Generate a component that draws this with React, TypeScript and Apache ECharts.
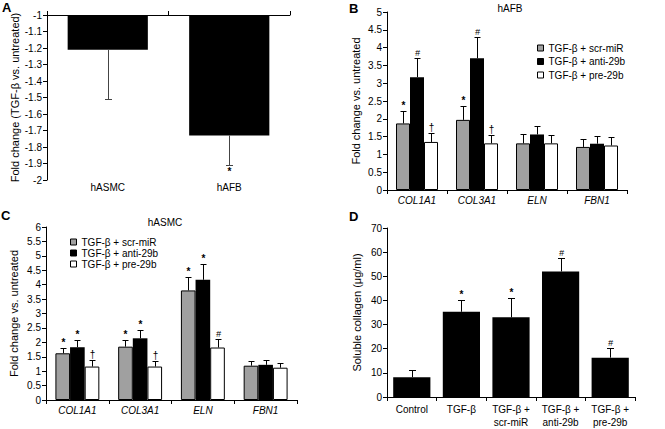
import React, { useEffect, useRef } from 'react';
import * as echarts from 'echarts';

const FONT = '"Liberation Sans", Arial, Helvetica, sans-serif';

// ---------- Panel A ----------
const aCategories = ['hASMC', 'hAFB'];
const aValues = [-1.21, -1.73];
const aErrors = [-1.51, -1.91];
const aMarkers = ['', '*'];

// ---------- Panels B & C ----------
const geneCategories = ['COL1A1', 'COL3A1', 'ELN', 'FBN1'];
const treatmentNames = ['TGF-β + scr-miR', 'TGF-β + anti-29b', 'TGF-β + pre-29b'];

const bScr = [1.87, 1.97, 1.31, 1.21];
const bScrErr = [2.23, 2.36, 1.57, 1.44];
const bAnti = [3.17, 3.7, 1.56, 1.3];
const bAntiErr = [3.72, 4.3, 1.81, 1.51];
const bPre = [1.35, 1.31, 1.31, 1.25];
const bPreErr = [1.61, 1.54, 1.54, 1.48];
const bScrMarks = ['*', '*', '', ''];
const bAntiMarks = ['#', '#', '', ''];
const bPreMarks = ['†', '†', '', ''];

const cScr = [1.62, 1.85, 3.8, 1.19];
const cScrErr = [1.81, 2.08, 4.27, 1.35];
const cAnti = [1.83, 2.14, 4.17, 1.22];
const cAntiErr = [2.08, 2.43, 4.73, 1.39];
const cPre = [1.16, 1.16, 1.82, 1.12];
const cPreErr = [1.39, 1.35, 2.11, 1.28];
const cScrMarks = ['*', '*', '*', ''];
const cAntiMarks = ['*', '*', '*', ''];
const cPreMarks = ['†', '†', '#', ''];

// ---------- Panel D ----------
const dCategories = ['Control', 'TGF-β', 'TGF-β +\nscr-miR', 'TGF-β +\nanti-29b', 'TGF-β +\npre-29b'];
const dValues = [8.2, 35.3, 33.0, 52.0, 16.3];
const dErrors = [11.2, 40.2, 41.2, 57.5, 20.2];
const dMarkers = ['', '*', '*', '#', '#'];

const barColors = ['#a0a0a0', '#000000', '#ffffff'];

function errorSeries(
  xi: number, yi: number, values: number[], errs: number[], marks: string[],
  offset: number, nBars: number, gapFrac: number, color: string, cap: number
) {
  return {
    type: 'custom',
    xAxisIndex: xi,
    yAxisIndex: yi,
    silent: true,
    clip: false,
    z: 5,
    encode: { x: 0, y: [1, 2] },
    data: values.map((v, i) => [i, v, errs[i]]),
    renderItem: (params: any, api: any) => {
      const i = api.value(0);
      const v = api.value(1);
      const e = api.value(2);
      const p0 = api.coord([i, v]);
      const p1 = api.coord([i, e]);
      const band = api.size([1, 0])[0];
      const bw = (band * (1 - gapFrac)) / nBars;
      const x = Math.round(p0[0] + (offset - (nBars - 1) / 2) * bw) + 0.5;
      const yEnd = Math.round(p1[1]) + 0.5;
      const down = e < v;
      const mark = marks[params.dataIndex];
      const children: any[] = [
        { type: 'line', shape: { x1: x, y1: p0[1], x2: x, y2: yEnd }, style: { stroke: color, lineWidth: 1 } },
        { type: 'line', shape: { x1: x - cap, y1: yEnd, x2: x + cap, y2: yEnd }, style: { stroke: color, lineWidth: 1 } },
      ];
      if (mark) {
        children.push({
          type: 'text',
          style: {
            text: mark,
            x: x,
            y: down ? yEnd + 1 : yEnd - 1,
            align: 'center',
            verticalAlign: down ? 'top' : 'bottom',
            fontSize: mark === '#' ? 9 : 10,
            fontWeight: mark === '*' ? 'bold' : 'normal',
            fontStyle: mark === '#' ? 'italic' : 'normal',
            fontFamily: FONT,
            fill: '#000',
          },
        });
      }
      return { type: 'group', children };
    },
  };
}

function yAxisDef(grid: number, min: number, max: number, interval: number, name: string, nameGap: number) {
  return {
    type: 'value',
    gridIndex: grid,
    min,
    max,
    interval,
    name,
    nameLocation: 'middle',
    nameGap,
    nameTextStyle: { fontSize: 11, color: '#000', fontFamily: FONT },
    axisLine: { show: true, lineStyle: { color: '#000', width: 1 } },
    axisTick: { show: true, length: 4, lineStyle: { color: '#000' } },
    axisLabel: { fontSize: 10, color: '#000', fontFamily: FONT, margin: 5 },
    splitLine: { show: false },
  };
}

function catAxisDef(grid: number, data: string[], italic: boolean, margin: number) {
  return {
    type: 'category',
    gridIndex: grid,
    data,
    position: 'bottom',
    axisLine: { show: true, onZero: false, lineStyle: { color: '#000', width: 1 } },
    axisTick: { show: true, length: 4, lineStyle: { color: '#000' } },
    axisLabel: {
      fontSize: 10,
      color: '#000',
      fontFamily: FONT,
      fontStyle: italic ? 'italic' : 'normal',
      margin,
      lineHeight: 13,
      interval: 0,
    },
  };
}

function groupBars(xi: number, yi: number, sets: number[][]) {
  return sets.map((vals, k) => ({
    type: 'bar',
    name: treatmentNames[k],
    xAxisIndex: xi,
    yAxisIndex: yi,
    data: vals,
    barGap: '0%',
    barCategoryGap: '30%',
    itemStyle: {
      color: barColors[k],
      borderColor: '#000',
      borderWidth: k === 1 ? 0 : 1,
    },
  }));
}

function legendDef(left: number, top: number, gap: number) {
  return {
    left,
    top,
    orient: 'vertical',
    icon: 'rect',
    itemWidth: 6,
    itemHeight: 6,
    itemGap: gap,
    selectedMode: false,
    textStyle: { fontSize: 10, color: '#000', fontFamily: FONT, lineHeight: 10 },
    data: treatmentNames.map((n, k) => ({
      name: n,
      itemStyle: { color: barColors[k], borderColor: '#000', borderWidth: 1 },
    })),
  };
}

function buildOption() {
  const letter = (t: string, x: number, y: number) => ({
    type: 'text',
    left: x,
    top: y,
    style: { text: t, fontSize: 13, fontWeight: 'bold', fontFamily: FONT, fill: '#000' },
  });
  const title = (t: string, x: number, y: number) => ({
    type: 'text',
    x,
    y,
    style: { text: t, fontSize: 10, fontFamily: FONT, fill: '#000', align: 'center', verticalAlign: 'top' },
  });

  return {
    animation: false,
    backgroundColor: '#fff',
    grid: [
      { left: 47, top: 15, width: 243, height: 165 },
      { left: 387, top: 12, width: 240, height: 178 },
      { left: 46, top: 227, width: 251, height: 173 },
      { left: 387, top: 228, width: 248, height: 171 },
    ],
    xAxis: [
      {
        type: 'category',
        gridIndex: 0,
        data: aCategories,
        position: 'top',
        axisLine: { show: true, onZero: false, lineStyle: { color: '#000' } },
        axisTick: { show: true, length: 4, lineStyle: { color: '#000' } },
        axisLabel: { show: false },
      },
      {
        type: 'category',
        gridIndex: 0,
        data: aCategories,
        position: 'bottom',
        axisLine: { show: false, onZero: false },
        axisTick: { show: false },
        axisLabel: { fontSize: 10, color: '#000', fontFamily: FONT, margin: 2 },
      },
      catAxisDef(1, geneCategories, true, 4),
      catAxisDef(2, geneCategories, true, 4),
      catAxisDef(3, dCategories, false, 6),
    ],
    yAxis: [
      yAxisDef(0, -2, -1, 0.1, 'Fold change (TGF-β vs. untreated)', 27),
      yAxisDef(1, 0, 5, 0.5, 'Fold change vs. untreated', 26),
      yAxisDef(2, 0, 6, 0.5, 'Fold change vs. untreated', 27),
      yAxisDef(3, 0, 70, 10, 'Soluble collagen (μg/ml)', 25),
    ],
    legend: [legendDef(532, 38, 3.5), legendDef(65, 232, 1)],
    graphic: [
      letter('A', 2, 1),
      letter('B', 349, 2),
      letter('C', 1, 209),
      letter('D', 349, 210),
      title('hAFB', 510, 3),
      title('hASMC', 165, 217),
    ],
    series: [
      {
        type: 'bar',
        xAxisIndex: 0,
        yAxisIndex: 0,
        data: aValues,
        barWidth: '66%',
        clip: true,
        itemStyle: { color: '#000' },
      },
      errorSeries(0, 0, aValues, aErrors, aMarkers, 0, 1, 0.34, '#444', 3.5),
      ...groupBars(2, 1, [bScr, bAnti, bPre]),
      errorSeries(2, 1, bScr, bScrErr, bScrMarks, 0, 3, 0.3, '#000', 3),
      errorSeries(2, 1, bAnti, bAntiErr, bAntiMarks, 1, 3, 0.3, '#000', 3),
      errorSeries(2, 1, bPre, bPreErr, bPreMarks, 2, 3, 0.3, '#000', 3),
      ...groupBars(3, 2, [cScr, cAnti, cPre]),
      errorSeries(3, 2, cScr, cScrErr, cScrMarks, 0, 3, 0.3, '#000', 3),
      errorSeries(3, 2, cAnti, cAntiErr, cAntiMarks, 1, 3, 0.3, '#000', 3),
      errorSeries(3, 2, cPre, cPreErr, cPreMarks, 2, 3, 0.3, '#000', 3),
      {
        type: 'bar',
        xAxisIndex: 4,
        yAxisIndex: 3,
        data: dValues,
        barCategoryGap: '25%',
        itemStyle: { color: '#000' },
      },
      errorSeries(4, 3, dValues, dErrors, dMarkers, 0, 1, 0.25, '#000', 3.5),
    ],
  };
}

export default function App() {
  const ref = useRef<HTMLDivElement>(null);
  useEffect(() => {
    if (!ref.current) return;
    const chart = echarts.init(ref.current, null, { renderer: 'svg' });
    chart.setOption(buildOption() as any);
    return () => {
      chart.dispose();
    };
  }, []);
  return (
    <div
      ref={ref}
      style={{ position: 'fixed', left: 0, top: 0, width: 665, height: 429, background: '#fff' }}
    />
  );
}
